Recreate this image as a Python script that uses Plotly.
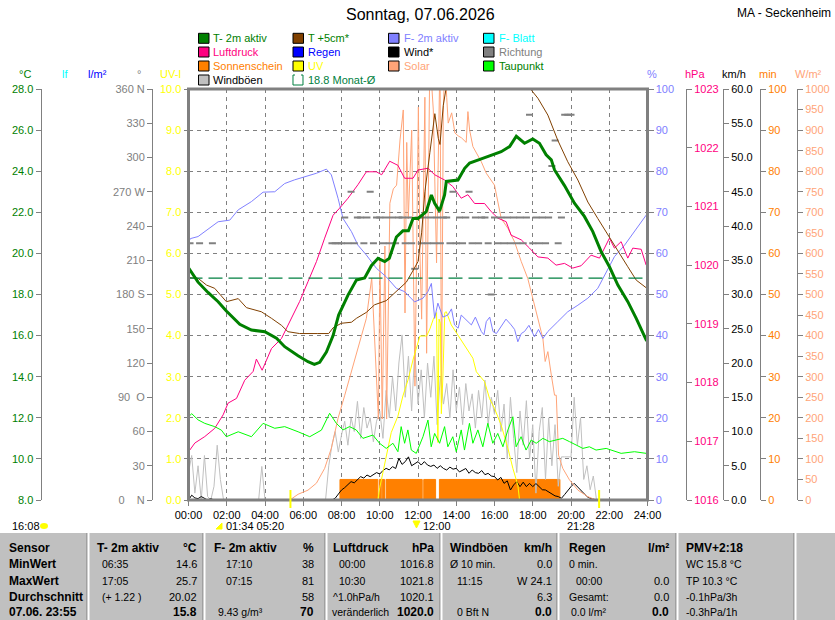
import plotly.graph_objects as go

W, H = 835, 620
FONT = 'Liberation Sans'
GREY = '#808080'

# plot frame in pixels (left, right, top, bottom)
L, R, T, B = 188.5, 647.5, 89, 500


def px(x):
    return x / W


def py(y):
    return 1 - y / H


# ---------------- data (x = hours since midnight) ----------------

# T- 2m aktiv (degC)
t2_t = [0, 0.5, 1.02, 1.55, 1.98, 2.68, 3.29, 3.99, 4.6, 5.03, 5.73, 6.25, 6.58, 6.86, 7.21,
        7.56, 7.85, 8.34, 8.78, 9.21, 9.56, 9.91, 10.26, 10.5, 10.87, 11.21, 11.5, 11.74, 12.0,
        12.43, 12.7, 12.87, 13.13, 13.39, 13.48, 14.09, 14.44, 14.7, 15.31, 15.92, 16.35, 16.79,
        17.14, 17.57, 18.0, 18.35, 18.7, 18.97, 19.14, 19.66, 20.18, 20.7, 21.14, 21.58, 22.01,
        22.45, 22.97, 23.41, 23.93, 24.0]
t2_v = [19.3, 18.6, 18.1, 17.65, 17.2, 16.55, 16.27, 16.19, 15.87, 15.46, 15.02, 14.73, 14.6,
        14.7, 15.2, 16.0, 17.0, 17.97, 18.7, 18.8, 19.4, 19.76, 19.6, 19.76, 20.8, 21.1, 21.1,
        21.7, 21.7, 22.03, 22.84, 22.44, 22.06, 22.84, 23.5, 23.57, 24.14, 24.4, 24.6, 24.8,
        24.95, 25.2, 25.7, 25.36, 25.57, 25.36, 24.8, 24.55, 24.06, 23.3, 22.44, 21.8, 21.06,
        20.08, 19.35, 18.46, 17.65, 16.84, 15.79, 15.8]

# T +5cm* (degC), above 28 it runs off the top of the chart
t5_t = [0, 0.5, 0.94, 1.37, 1.98, 2.6, 3.03, 3.81, 4.34, 4.86, 5.2, 5.81, 6.76, 7.33, 7.56,
        7.99, 8.52, 8.78, 9.3, 9.73, 10.34, 10.95, 11.39, 11.7, 12.0, 12.19, 12.36, 12.62, 12.88,
        13.06, 13.15, 13.32, 13.5, 14.5, 15.5, 16.5, 17.88, 18.27, 18.79, 19.31, 19.83, 20.36,
        20.88, 21.4, 21.92, 22.45, 22.97, 23.41, 23.93, 24.0]
t5_v = [18.82, 18.79, 18.46, 18.3, 17.65, 17.8, 17.36, 17.16, 16.84, 16.5, 16.19, 16.1, 16.1,
        16.1, 16.38, 16.6, 16.65, 16.84, 17.13, 17.5, 17.7, 18.2, 18.6, 19.1, 19.6, 21.0, 23.0,
        24.9, 26.8, 25.6, 25.3, 27.2, 28.2, 30.5, 31.8, 30.5, 28.0, 27.55, 26.73, 25.5, 24.46,
        23.57, 22.5, 21.7, 20.9, 20.08, 19.35, 18.7, 18.3, 18.28]

# F- 2m aktiv (%)
rh_t = [0, 0.1, 0.5, 0.94, 1.55, 2.16, 2.6, 3.29, 3.9, 4.51, 5.03, 5.55, 6.08, 6.69, 7.21,
        7.47, 7.82, 8.08, 8.52, 8.86, 9.3, 9.82, 10.34, 10.87, 11.3, 11.82, 12.26, 12.52, 12.7,
        12.87, 13.04, 13.3, 13.56, 13.75, 13.91, 14.1, 14.26, 14.5, 14.79, 15.0, 15.31, 15.45,
        15.57, 15.75, 15.92, 16.1, 16.35, 16.6, 16.87, 17.05, 17.22, 17.4, 17.57, 17.8, 18.09,
        18.3, 18.53, 18.79, 19.31, 19.83, 20.36, 20.88, 21.4, 21.84, 22.27, 22.8, 23.32, 23.93,
        24.0]
rh_v = [62.8, 63.6, 64.1, 65.7, 67.7, 68.1, 70.6, 72.6, 74.9, 75.0, 77.0, 77.9, 78.7, 79.5,
        80.5, 79.1, 73.4, 68.5, 65.3, 62.0, 59.6, 56.4, 54.3, 51.5, 50.7, 48.2, 49.1, 50.7,
        52.7, 44.2, 47.9, 44.5, 45.0, 46.5, 42.6, 41.8, 45.0, 44.0, 42.6, 44.5, 41.0, 40.2,
        43.4, 44.5, 41.0, 40.5, 42.2, 44.0, 42.6, 41.5, 38.5, 40.5, 41.0, 42.5, 39.7, 41.5,
        39.3, 41.0, 43.4, 45.8, 47.4, 49.1, 51.5, 55.5, 59.2, 62.0, 65.3, 69.3, 70.0]

# Luftdruck (hPa)
p_t = [0, 0.33, 0.85, 1.37, 1.81, 2.07, 2.51, 2.94, 3.38, 3.55, 3.85, 4.34, 4.86, 5.38, 5.81,
       6.25, 6.69, 7.12, 7.56, 7.9, 8.34, 8.86, 9.3, 9.82, 10.1, 10.52, 10.95, 11.3, 11.74,
       12.0, 12.52, 12.87, 13.39, 13.82, 14.26, 14.61, 14.96, 15.48, 15.83, 16.18, 16.61,
       16.87, 17.4, 17.83, 18.27, 18.79, 19.22, 19.66, 20.09, 20.53, 21.05, 21.49, 22.01,
       22.27, 22.62, 22.97, 23.23, 23.67, 23.93, 24.0]
p_v = [1016.82, 1016.97, 1017.08, 1017.22, 1017.45, 1017.65, 1017.73, 1018.04, 1018.19,
       1018.4, 1018.21, 1018.58, 1018.75, 1019.09, 1019.38, 1019.72, 1020.06, 1020.46,
       1020.85, 1020.97, 1021.14, 1021.37, 1021.59, 1021.59, 1021.54, 1021.77, 1021.7,
       1021.48, 1021.48, 1021.62, 1021.65, 1021.54, 1021.45, 1021.34, 1021.14, 1021.2,
       1021.05, 1021.05, 1020.91, 1020.8, 1020.74, 1020.51, 1020.43, 1020.29, 1020.14,
       1020.12, 1020.0, 1020.03, 1019.95, 1019.99, 1020.17, 1020.12, 1020.46, 1020.29,
       1020.4, 1020.12, 1020.29, 1020.27, 1020.0, 1020.0]

# Taupunkt (degC)
td_t = [0, 0.17, 0.5, 0.85, 1.37, 1.72, 1.98, 2.6, 3.29, 3.9, 4.51, 5.03, 5.73, 6.34, 6.95,
        7.38, 7.73, 8.08, 8.42, 8.77, 9.12, 9.64, 9.99, 10.34, 10.69, 10.95, 11.12, 11.3,
        11.47, 11.65, 11.91, 12.26, 12.52, 12.69, 12.87, 13.13, 13.39, 13.56, 13.82, 14.0,
        14.26, 14.43, 14.69, 14.87, 15.13, 15.39, 15.65, 15.91, 16.17, 16.44, 16.7, 16.96,
        17.13, 17.39, 17.65, 17.92, 18.18, 18.53, 18.87, 19.22, 19.57, 19.92, 20.27, 20.62,
        20.96, 21.31, 21.84, 22.62, 23.32, 23.93, 24.0]
td_v = [12.05, 12.2, 11.9, 11.73, 11.57, 11.4, 11.08, 11.32, 11.08, 11.73, 11.49, 11.57,
        11.32, 11.08, 11.4, 12.22, 11.73, 11.41, 11.57, 11.41, 11.0, 11.16, 10.76, 10.51,
        10.76, 10.35, 11.57, 10.76, 11.41, 10.43, 10.27, 11.08, 11.89, 10.59, 11.24, 10.76,
        11.57, 10.59, 11.08, 10.35, 11.41, 10.43, 11.73, 10.76, 11.41, 10.59, 11.73, 10.76,
        11.24, 10.59, 11.41, 12.05, 10.59, 11.08, 10.43, 10.92, 10.76, 11.0, 10.84, 10.92,
        11.0, 10.84, 10.68, 10.51, 10.59, 10.43, 10.51, 10.27, 10.35, 10.27, 10.3]

# Solar (W/m2), values above 1000 are off the top
sol_t = [0, 5.3, 5.73, 6.25, 6.69, 7.12, 7.47, 7.82, 8.17, 8.52, 8.86, 9.3, 9.58, 9.84, 9.93,
         10.01, 10.13, 10.27, 10.36, 10.53, 10.71, 10.88, 11.06, 11.23, 11.32, 11.41, 11.49,
         11.67, 11.84, 12.02, 12.1, 12.19, 12.36, 12.45, 12.62, 12.8, 12.97, 13.15, 13.23,
         13.32, 13.41, 13.5, 13.58, 13.76, 13.93, 14.1, 14.28, 14.52, 14.61, 14.7, 14.87,
         15.31, 15.57, 16.0, 16.35, 16.7, 17.05, 17.4, 17.74, 18.0, 18.27, 18.53, 18.65,
         18.79, 18.97, 19.14, 19.23, 19.35, 19.57, 19.92, 20.36, 20.88, 21.32, 24.0]
sol_v = [0, 0, 14, 24, 41, 77, 126, 199, 255, 312, 369, 442, 540, 309, 197, 586, 197, 618,
         197, 722, 757, 766, 876, 949, 455, 870, 684, 900, 277, 956, 601, 440, 980, 357, 1080,
         949, 577, 1080, 236, 939, 1080, 980, 917, 942, 893, 886, 881, 870, 945, 900, 860,
         823, 795, 766, 685, 661, 628, 580, 539, 491, 442, 393, 337, 361, 304, 255, 255, 109,
         77, 49, 24, 8, 0, 0]

# UV index
uv_t = [0, 9.9, 10.0, 10.27, 10.6, 10.95, 11.21, 11.49, 11.75, 12.1, 12.45, 12.62, 12.8,
        12.97, 13.04, 13.1, 13.17, 13.22, 13.3, 13.4, 13.48, 13.74, 14.09, 14.44, 14.87,
        15.05, 15.48, 15.74, 16.0, 16.35, 16.7, 16.96, 17.22, 17.31, 24.0]
uv_v = [0, 0, 0.3, 0.91, 1.64, 2.04, 2.53, 2.94, 3.43, 3.99, 3.99, 4.16, 4.4, 4.56, 1.4,
        4.4, 4.3, 2.1, 2.97, 4.56, 4.58, 4.26, 4.01, 3.73, 3.45, 3.12, 2.88, 2.47, 2.23,
        1.82, 1.26, 0.77, 0.36, 0, 0]

# Windböen (km/h), one value every 10 minutes, 00:00 .. 24:00
gust_v = [4.0, 6.5, 1.0, 5.0, 0.0, 6.5,        # 00
          0.5, 0.0, 2.0, 8.0, 3.0, 0.0,        # 01
          0, 0, 0, 0, 0, 0,                    # 02
          0, 0, 0, 0, 0, 4.9,                  # 03
          0, 0, 0, 0, 0, 0,                    # 04
          0, 0, 0, 0, 0, 0,                    # 05
          0, 0, 0, 0, 0, 0,                    # 06
          0, 0, 5.0, 8.0, 10.0, 7.0,           # 07
          9.5, 11.5, 8.0, 12.0, 10.0, 14.4,    # 08
          9.0, 13.5, 10.5, 12.0, 8.5, 11.5,    # 09
          13.0, 9.0, 16.0, 12.0, 18.0, 13.0,   # 10
          20.0, 24.1, 15.0, 21.0, 13.0, 22.0,  # 11
          14.0, 19.0, 12.0, 20.0, 15.0, 21.0,  # 12
          11.0, 18.0, 14.0, 17.0, 12.0, 19.0,  # 13
          13.0, 16.5, 11.0, 17.0, 13.0, 15.5,  # 14
          10.5, 16.0, 12.0, 17.5, 11.0, 15.0,  # 15
          12.5, 16.0, 10.0, 14.0, 6.0, 15.0,   # 16
          9.0, 4.0, 13.0, 8.0, 14.5, 6.0,      # 17
          11.0, 1.0, 10.0, 13.5, 3.0, 12.0,    # 18
          5.0, 11.0, 2.0, 6.3, 6.3, 6.3,       # 19
          6.3, 15.0, 8.0, 12.0, 3.0, 5.0,      # 20
          1.5, 3.5, 0, 0, 0, 0,                # 21
          0, 0, 0, 0, 0, 0,                    # 22
          0, 0, 0, 0, 0, 0,                    # 23
          0]
gust_t = [i / 6 for i in range(len(gust_v))]

# Wind* (km/h), every 10 minutes
wind_v = [0, 0.7, 0.3, 0.2, 0.5, 0.3,          # 00
          0, 0.2, 0, 0, 0, 0,                  # 01
          0, 0, 0, 0, 0, 0,                    # 02
          0, 0, 0, 0, 0, 0,                    # 03
          0, 0, 0, 0, 0, 0,                    # 04
          0, 0, 0, 0, 0, 0,                    # 05
          0, 0, 0, 0, 0, 0,                    # 06
          0, 0, 0, 0, 0.25, 0.8,               # 07
          1.46, 1.8, 2.3, 2.68, 2.5, 3.0,      # 08
          3.41, 3.2, 3.65, 3.4, 3.65, 4.0,     # 09
          3.8, 4.3, 4.62, 4.4, 4.87, 4.6,      # 10
          6.08, 5.2, 5.6, 6.3, 5.0, 5.35,      # 11
          5.6, 5.1, 5.6, 5.1, 4.9, 5.1,        # 12
          4.62, 5.0, 4.6, 4.38, 4.8, 4.5,      # 13
          4.62, 4.1, 4.38, 4.6, 3.9, 4.38,     # 14
          4.0, 3.89, 4.3, 3.7, 3.89, 3.5,      # 15
          3.41, 2.92, 3.3, 2.43, 2.8, 1.46,    # 16
          2.2, 2.68, 1.95, 2.6, 1.95, 2.43,    # 17
          1.95, 2.4, 1.95, 1.5, 1.46, 1.2,     # 18
          0.97, 0.6, 0.5, 0.25, 0.8, 1.46,     # 19
          1.95, 2.43, 1.95, 1.46, 0.97, 0.5,   # 20
          0.25, 0.1, 0, 0, 0, 0,               # 21
          0, 0, 0, 0, 0, 0,                    # 22
          0, 0, 0, 0, 0, 0,                    # 23
          0]
wind_t = [i / 6 for i in range(len(wind_v))]

# Sonnenschein (min per 5 min), step changes
sun_t = [0, 7.92, 9.9, 9.98, 10.08, 10.13, 10.25, 10.33, 12.22, 12.3, 12.92, 13.12, 19.42, 24.0]
sun_v = [0, 5, 0, 5, 0, 5, 0, 5, 0, 5, 0, 5, 0, 0]

# Richtung (degrees)
dir_t = [0.08, 0.58, 1.25, 7.5, 7.67, 7.83, 8.0, 8.17, 8.33, 8.5, 8.67, 8.83, 9.0, 9.17, 9.33,
         9.5, 9.67, 9.83, 10.0, 10.17, 10.33, 10.5, 10.67, 10.83, 11.0, 11.17, 11.33, 11.5,
         11.67, 11.83, 12.0, 12.17, 12.33, 12.5, 12.67, 12.83, 13.0, 13.17, 13.33, 13.5, 13.67,
         13.83, 14.0, 14.17, 14.33, 14.5, 14.67, 14.83, 15.0, 15.17, 15.33, 15.5, 15.67, 15.83,
         16.0, 16.17, 16.33, 16.5, 16.67, 16.83, 17.0, 17.17, 17.33, 17.5, 17.67, 17.83, 18.0,
         18.17, 18.33, 18.5, 18.67, 18.83, 19.0, 19.17, 19.33, 19.5, 19.67, 19.83, 20.0]
dir_v = [225, 225, 225, 225, 225, 225, 225, 247.5, 225, 270, 225, 247.5, 247.5, 225, 247.5,
         270, 225, 247.5, 247.5, 225, 247.5, 225, 247.5, 225, 247.5, 247.5, 225, 247.5, 225,
         202.5, 247.5, 225, 247.5, 225, 247.5, 225, 247.5, 225, 247.5, 247.5, 225, 270, 225,
         247.5, 225, 247.5, 270, 225, 247.5, 225, 247.5, 247.5, 225, 180, 247.5, 225, 247.5,
         225, 247.5, 225, 247.5, 225, 247.5, 225, 247.5, 337.5, 225, 247.5, 225, 247.5, 225,
         247.5, 292.5, 315, 225, 247.5, 337.5, 337.5, 337.5]

month_mean = 18.8
sun_events = [5.33, 21.47]  # sunrise, sunset

# axis tick labels
hour_ticks = list(range(0, 25, 2))
hour_labels = ['%02d:00' % h for h in hour_ticks]
deg_ticks = list(range(0, 361, 30))
deg_labels = ['0\u00a0\u00a0\u00a0\u00a0N', '30', '60', '90\u00a0\u00a0O', '120', '150', '180 S',
              '210', '240', '270 W', '300', '330', '360 N']

fig = go.Figure()

# layering follows the axis numbering: y (min) at the bottom, y10 (degC) on top
fig.add_trace(go.Scatter(x=sun_t, y=sun_v, yaxis='y', mode='lines',
                         line=dict(color='#FF8000', width=1, shape='hv'),
                         fill='tozeroy', fillcolor='#FF8000'))
fig.add_trace(go.Scatter(x=gust_t, y=gust_v, yaxis='y2', mode='lines',
                         line=dict(color='#C0C0C0', width=1)))
fig.add_trace(go.Scatter(x=wind_t, y=wind_v, yaxis='y2', mode='lines',
                         line=dict(color='#000000', width=1)))
fig.add_trace(go.Scatter(x=sol_t, y=sol_v, yaxis='y3', mode='lines',
                         line=dict(color='#FFA478', width=1)))
fig.add_trace(go.Scatter(x=uv_t, y=uv_v, yaxis='y4', mode='lines',
                         line=dict(color='#FFFF00', width=1)))
fig.add_trace(go.Scatter(x=rh_t, y=rh_v, yaxis='y5', mode='lines',
                         line=dict(color='#8080FF', width=1)))
fig.add_trace(go.Scatter(x=p_t, y=p_v, yaxis='y6', mode='lines',
                         line=dict(color='#FF0080', width=1)))
fig.add_trace(go.Scatter(x=dir_t, y=dir_v, yaxis='y7', mode='markers',
                         marker=dict(symbol='line-ew', size=5,
                                     line=dict(color=GREY, width=2))))
fig.add_trace(go.Scatter(x=td_t, y=td_v, yaxis='y10', mode='lines',
                         line=dict(color='#00FF00', width=1)))
fig.add_trace(go.Scatter(x=t5_t, y=t5_v, yaxis='y10', mode='lines',
                         line=dict(color='#804000', width=1)))
fig.add_trace(go.Scatter(x=[0, 24], y=[month_mean, month_mean], yaxis='y10', mode='lines',
                         line=dict(color='#008040', width=1.2, dash='14px,6px')))
fig.add_trace(go.Scatter(x=t2_t, y=t2_v, yaxis='y10', mode='lines',
                         line=dict(color='#008000', width=3)))


def y_axis(pos, side, rng, ticks, color, labels=None, fmt=None, primary=False):
    ax = dict(anchor='free', position=pos, side=side, range=rng,
              tickmode='array', tickvals=ticks, ticks='outside', ticklen=5,
              tickcolor=GREY, showline=True, linecolor=GREY, linewidth=1,
              showgrid=False, zeroline=False, fixedrange=True, automargin=False,
              tickfont=dict(color=color, size=11, family=FONT))
    if labels:
        ax['ticktext'] = labels
    if fmt:
        ax['tickformat'] = fmt
    if primary:
        ax['domain'] = [py(B), py(T)]
        ax['showgrid'] = True
        ax['gridcolor'] = GREY
        ax['griddash'] = '4px,4px'
    else:
        ax['overlaying'] = 'y'
    return ax


fig.update_layout(
    width=W, height=H, margin=dict(l=0, r=0, t=0, b=0, pad=0, autoexpand=False),
    paper_bgcolor='white', plot_bgcolor='white', showlegend=False,
    font=dict(family=FONT, size=11, color='black'),
    xaxis=dict(domain=[px(L), px(R)], range=[0, 24], tickmode='array',
               tickvals=hour_ticks, ticktext=hour_labels, ticks='outside', ticklen=5,
               tickcolor=GREY, showgrid=True, gridcolor=GREY, griddash='4px,4px',
               zeroline=False, showline=False, fixedrange=True, anchor='y',
               automargin=False, tickfont=dict(size=11, color='black')),
    yaxis=y_axis(px(760), 'right', [0, 100], list(range(0, 101, 10)), '#FF8000', primary=True),
    yaxis2=y_axis(px(723), 'right', [0, 60], list(range(0, 61, 5)), '#000000', fmt='.1f'),
    yaxis3=y_axis(px(797), 'right', [0, 1000], list(range(0, 1001, 50)), '#FFA478'),
    yaxis4=y_axis(px(L), 'left', [0, 10], list(range(0, 11)), '#FFFF00', fmt='.1f'),
    yaxis5=y_axis(px(R), 'right', [0, 100], list(range(0, 101, 10)), '#8080FF'),
    yaxis6=y_axis(px(686), 'right', [1016, 1023], list(range(1016, 1024)), '#FF0080'),
    yaxis7=y_axis(px(152), 'left', [0, 360], deg_ticks, GREY, labels=deg_labels),
    yaxis8=y_axis(px(114.5), 'left', [0, 5], list(range(0, 6)), '#0000FF', fmt='.1f'),
    yaxis9=y_axis(px(78), 'left', [0, 15], list(range(0, 16)), '#00FFFF'),
    yaxis10=y_axis(px(40.5), 'left', [8, 28], list(range(8, 29, 2)), '#008000', fmt='.1f'),
)

shapes = []
annotations = []


def text(x, y, s, color='black', size=11, anchor='left'):
    annotations.append(dict(x=px(x), y=py(y), xref='paper', yref='paper', text=s,
                            showarrow=False, xanchor=anchor, yanchor='middle',
                            font=dict(family=FONT, size=size, color=color)))


def box(x0, y0, x1, y1, fill, line=None, width=1, layer='above'):
    shapes.append(dict(type='rect', xref='paper', yref='paper', x0=px(x0), x1=px(x1),
                       y0=py(y1), y1=py(y0), fillcolor=fill, layer=layer,
                       line=dict(color=line or fill, width=width if line else 0)))


def vline(x, y0, y1, color, width=1):
    shapes.append(dict(type='line', xref='paper', yref='paper', x0=px(x), x1=px(x),
                       y0=py(y0), y1=py(y1), line=dict(color=color, width=width)))


def tri(points, color):
    path = 'M ' + ' L '.join('%f,%f' % (px(x), py(y)) for x, y in points) + ' Z'
    shapes.append(dict(type='path', xref='paper', yref='paper', path=path,
                       fillcolor=color, line=dict(color=color, width=1)))


# plot frame
shapes.append(dict(type='rect', xref='paper', yref='paper', x0=px(L), x1=px(R),
                   y0=py(B), y1=py(T), line=dict(color=GREY, width=3), layer='above'))

# sunrise / sunset marks under the axis
for t in sun_events:
    shapes.append(dict(type='line', xref='x', yref='paper', x0=t, x1=t,
                       y0=py(490), y1=py(508), line=dict(color='#FFFF00', width=2)))

# title
text(420, 15, 'Sonntag, 07.06.2026', size=16, anchor='center')
text(833, 13, 'MA - Seckenheim', size=12, anchor='right')

# legend
legend = [('T- 2m aktiv', '#008000', '#008000'), ('T +5cm*', '#804000', '#008000'),
          ('F- 2m aktiv', '#8080FF', '#8080FF'), ('F- Blatt', '#00FFFF', '#00FFFF'),
          ('Luftdruck', '#FF0080', '#FF0080'), ('Regen', '#0000FF', '#0000FF'),
          ('Wind*', '#000000', '#000000'), ('Richtung', '#808080', '#808080'),
          ('Sonnenschein', '#FF8000', '#FF8000'), ('UV', '#FFFF00', '#FFFF00'),
          ('Solar', '#FFA478', '#FFA478'), ('Taupunkt', '#00FF00', '#008000'),
          ('Windböen', '#C0C0C0', '#000000')]
col_x = [198.5, 293, 388.5, 483.5]
row_y = [38.3, 52, 66, 80]
for i, (name, sq, tc) in enumerate(legend):
    cx, ry = col_x[i % 4], row_y[i // 4]
    box(cx, ry - 5, cx + 10.5, ry + 5, sq, line='black')
    text(cx + 13, ry, name, color=tc)
# Monat-Ø symbol: open bracket box
cx, ry = col_x[1], row_y[3]
shapes.append(dict(type='path', xref='paper', yref='paper',
                   path='M %f,%f L %f,%f L %f,%f L %f,%f' % (
                       px(cx + 2), py(ry - 5), px(cx), py(ry - 5), px(cx), py(ry + 5),
                       px(cx + 10), py(ry + 5)),
                   line=dict(color='#008040', width=1)))
shapes.append(dict(type='path', xref='paper', yref='paper',
                   path='M %f,%f L %f,%f L %f,%f' % (
                       px(cx + 8), py(ry - 5), px(cx + 10), py(ry - 5), px(cx + 10), py(ry + 5)),
                   line=dict(color='#008040', width=1)))
text(cx + 13, ry, '%.1f Monat-Ø' % month_mean, color='#008040')

# axis unit labels
for x, s, c in [(25, '°C', '#008000'), (65, 'lf', '#00FFFF'), (97, 'l/m²', '#0000FF'),
                (139, '°', GREY), (170, 'UV-I', '#FFFF00'), (652, '%', '#8080FF'),
                (695, 'hPa', '#FF0080'), (734, 'km/h', '#000000'), (768, 'min', '#FF8000'),
                (808, 'W/m²', '#FFA478')]:
    text(x, 74, s, color=c, anchor='center')

# sun / moon times below the time axis
text(10, 526, '16:08')
shapes.append(dict(type='circle', xref='paper', yref='paper', x0=px(40), x1=px(48),
                   y0=py(529), y1=py(523), fillcolor='#FFFF00', line=dict(width=0)))
tri([(216, 529), (222, 529), (222, 523)], '#FFFF00')
text(224, 526, '01:34 05:20')
tri([(413, 521), (420, 521), (416.5, 528)], '#FFFF00')
text(421, 526, '12:00')
text(565, 526, '21:28')

# statistics table
box(0, 533, W, H, '#C0C0C0', layer='below')
for x in [88, 204, 326, 441, 558, 677, 795]:
    vline(x - 1, 533, H, GREY, 1)
    vline(x + 0.5, 533, H, 'white', 2)

ry = [548, 564, 580.5, 596.5, 612]
for i, s in enumerate(['Sensor', 'MinWert', 'MaxWert', 'Durchschnitt', '07.06. 23:55']):
    text(7, ry[i], '<b>%s</b>' % s, size=12)

table = [
    (95, 199, 'T- 2m aktiv', '°C',
     [(100, '06:35', '14.6'), (100, '17:05', '25.7'), (100, '(+ 1.22 )', '20.02'), (100, '', '15.8')]),
    (212, 316, 'F- 2m aktiv', '%',
     [(224, '17:10', '38'), (224, '07:15', '81'), (224, '', '58'), (216, '9.43 g/m³', '70')]),
    (331, 436, 'Luftdruck', 'hPa',
     [(337, '00:00', '1016.8'), (337, '10:30', '1021.8'), (331, '^1.0hPa/h', '1020.1'),
      (330, 'veränderlich', '1020.0')]),
    (448, 554, 'Windböen', 'km/h',
     [(448, 'Ø 10 min.', '0.0'), (455, '11:15', 'W 24.1'), (455, '', '6.3'), (455, '0 Bft N', '0.0')]),
    (567, 671, 'Regen', 'l/m²',
     [(567, '0 min.', ''), (574, '00:00', '0.0'), (567, 'Gesamt:', '0.0'), (569, '0.0 l/m²', '0.0')]),
]
for x0, x1, head, unit, rows in table:
    text(x0, ry[0], '<b>%s</b>' % head, size=12)
    text(x1, ry[0], '<b>%s</b>' % unit, size=12, anchor='right')
    for j, (xl, left, right) in enumerate(rows):
        last = j == len(rows) - 1
        if left:
            text(xl, ry[j + 1], left, size=10.5)
        if right:
            text(x1, ry[j + 1], '<b>%s</b>' % right if last else right,
                 size=12 if last else 11, anchor='right')

text(684, ry[0], '<b>PMV+2:18</b>', size=12)
for j, s in enumerate(['WC 15.8 °C', 'TP 10.3 °C', '-0.1hPa/3h', '-0.3hPa/1h']):
    text(684, ry[j + 1], s, size=10.5)

fig.update_layout(shapes=shapes, annotations=annotations)

fig.write_html('out.html', config={'displayModeBar': False},
               post_script="document.body.style.margin='0';document.body.style.overflow='hidden';")
